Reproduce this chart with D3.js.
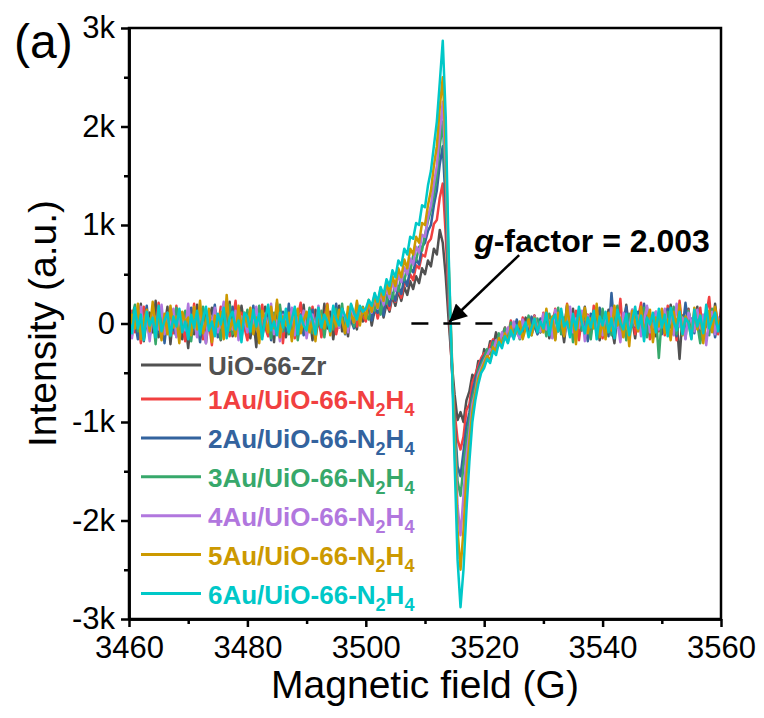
<!DOCTYPE html>
<html>
<head>
<meta charset="utf-8">
<script src="https://cdn.jsdelivr.net/npm/d3@7"></script>
<style>
  body { margin: 0; background: #fff; }
  svg text { font-family: "Liberation Sans", Arial, sans-serif; }
</style>
</head>
<body>
<div id="chart"></div>
<script>
// EPR spectra, one sample every 0.5 G from 3460 G to 3560 G
const fieldStart = 3460, fieldStep = 0.5;

const seriesNames = [
  "UiO-66-Zr",
  "1Au/UiO-66-N_2H_4",
  "2Au/UiO-66-N_2H_4",
  "3Au/UiO-66-N_2H_4",
  "4Au/UiO-66-N_2H_4",
  "5Au/UiO-66-N_2H_4",
  "6Au/UiO-66-N_2H_4"
];
const seriesColors = ["#515151", "#F14040", "#33639E", "#37A86B", "#B177DE", "#CC9900", "#00C8C8"];

const uio66Zr = [
  80, -120, 150, -60, 200, -180, 40, 110, -90, 230, -140, 60, -30, 170, -210, 90, -50, 130, -160, 20,
  -250, 70, -110, 190, -40, 120, -200, 50, 160, -90, 10, -170, 140, -60, 220, -130, 30, -80, 180, -20,
  100, -150, 60, -240, 130, -30, 170, -110, 50, -190, 210, -70, 90, -140, 40, 150, -100, 20, -60, 190,
  -120, 80, -170, 140, 10, -90, 200, -50, 120, -160, 60, 180, -80, 30, -130, 150, 40, -60, 170, 20,
  60, 180, -20, 140, 90, 230, 60, 200, 120, 280, 180, 330, 230, 370, 290, 430, 350, 480, 410, 560,
  500, 640, 580, 760, 700, 950, 820, 480, 20, -380, -720, -980, -900, -1000, -780, -690, -520, -560, -380, -420,
  -260, -330, -180, -240, -90, -200, -130, -40, -170, -60, -110, 20, -140, -30, 60, -90, -20, 80, -100, 10,
  -60, 90, -150, 40, 120, -80, 30, -190, 70, -40, 150, -110, 10, -60, 170, -130, 50, -20, 110, -170,
  60, -90, 140, -30, -200, 80, 20, -120, 190, -60, 40, -150, 100, -10, -80, 160, -40, 70, -130, 30,
  -70, 120, -20, 190, -110, 40, -360, 80, -50, 150, -90, 20, 170, -140, 60, -30, 110, -80, 200, -40,
  90
];
const au1 = [
  -40, 130, -90, 60, -200, 170, 20, -130, 90, -60, 210, -20, -150, 110, 40, -100, 180, -70, 30, -180,
  120, -30, 200, -110, 50, -160, 90, 10, -220, 140, -50, 170, -90, 60, -130, 20, 230, -80, 110, -40,
  -170, 70, 20, 150, -90, 190, -40, -130, 100, 40, -60, 160, -200, 80, -20, 120, -150, 60, 210, -100,
  30, -80, 170, -20, 110, -140, 60, 200, -50, 90, -110, 40, 150, 10, -70, 190, 60, -30, 140, 80,
  20, 160, 80, 210, 50, 170, 120, 260, 140, 300, 220, 360, 260, 420, 380, 500, 440, 590, 560, 700,
  680, 820, 860, 1010, 1050, 1280, 1420, 900, 200, -420, -900, -1180, -1280, -1150, -880, -820, -600, -520, -430, -350,
  -300, -370, -220, -160, -260, -120, -190, -50, -140, 30, -90, -20, -130, 60, -50, 20, -110, 80, -30, -90,
  110, -60, 40, -140, 150, -20, 70, -110, 200, -80, 10, 130, -170, 50, -40, 90, -120, 180, -10, 60,
  -150, 80, 30, -90, 160, -40, 250, -130, 20, -70, 140, -110, 60, 210, -50, 90, -160, 30, 120, -80,
  40, -120, 180, -30, 70, -170, 230, -60, 10, 140, -100, 50, -20, 160, -150, 80, 270, -50, 30, -110,
  150
];
const au2 = [
  150, -70, 20, -160, 110, -30, 180, -120, 60, 10, -90, 140, -200, 70, 120, -40, -130, 90, 30, -60,
  -100, 160, -50, 80, -190, 40, 130, -70, 20, 190, -140, 60, -30, 110, -80, 170, -60, 10, -150, 100,
  50, -110, 180, -40, 60, -130, 20, 150, -170, 90, -50, 30, 120, -80, 200, -140, 40, -20, 90, -120,
  70, -60, 140, -150, 30, 110, -20, 160, -90, 40, 200, -40, 80, -110, 120, 30, -50, 180, 20, 110,
  70, 190, 30, 150, 110, 240, 80, 290, 180, 310, 230, 380, 300, 470, 380, 560, 520, 650, 600, 780,
  820, 940, 1000, 1200, 1350, 1620, 1800, 1200, 300, -380, -1000, -1450, -1550, -1300, -1050, -900, -700, -560, -470, -380,
  -330, -270, -300, -180, -230, -110, -170, -60, -130, -20, -100, 40, -60, -140, 20, -80, 70, -30, -110, 50,
  -40, 120, -90, 30, -160, 90, 10, -60, 180, -120, 50, -10, 140, -70, 20, -180, 100, 40, -90, 160,
  -20, 70, -130, 310, -50, 110, -90, 20, 170, -140, 60, -30, 120, -80, 200, -40, 10, -150, 90, 40,
  -110, 60, 150, -40, 20, -130, 90, -60, 210, -20, 50, -100, 130, -170, 40, 110, -50, 70, -140, 20,
  80
];
const au3 = [
  -110, 60, 190, -80, 30, -150, 120, -40, 80, -210, 150, 20, -70, 100, -130, 50, 160, -100, 10, 130,
  -60, -180, 90, 40, -120, 170, -30, 80, -90, 140, 20, -160, 60, -40, 190, -110, 30, 120, -70, -10,
  140, -90, 30, -50, 180, -120, 70, 20, -150, 110, -30, 190, -80, 40, -110, 60, 130, -170, 20, 80,
  -40, 160, -100, 50, -20, 130, -140, 90, 30, -60, 150, -10, 200, -70, 60, 110, -30, 140, 50, 170,
  100, 40, 190, 130, 260, 90, 300, 200, 350, 250, 420, 330, 480, 440, 560, 520, 690, 640, 780, 740,
  900, 1040, 1150, 1300, 1500, 1800, 2050, 1400, 400, -350, -1050, -1600, -1750, -1450, -1200, -980, -760, -640, -480, -420,
  -350, -260, -310, -190, -240, -100, -180, -50, -150, 10, -110, -40, -160, 30, -70, 80, -120, -10, 50, -90,
  40, -130, 100, -50, 20, 160, -110, 60, -30, 120, -190, 10, 80, -70, 140, -20, -160, 90, 30, -100,
  150, -40, 60, -120, 20, 180, -90, 40, -170, 100, -30, 130, -60, 10, 160, -140, 50, -20, 90, -350,
  60, -80, 120, -30, 170, -110, 20, 70, -150, 130, -40, 90, -10, -200, 80, 30, -120, 150, -60, 40,
  -100
];
const au4 = [
  60, -150, 110, -20, 170, -90, 40, -180, 130, 20, -60, 190, -110, 80, -40, 150, -140, 30, 100, -70,
  200, -80, 30, -140, 90, 10, -200, 120, -30, 160, -90, 50, 220, -120, 40, -60, 130, -170, 70, 20,
  -90, 120, -30, 170, -140, 50, 100, -60, 200, -110, 30, -180, 90, 20, -70, 160, -120, 60, -20, 130,
  -150, 40, 90, -70, 180, -30, 60, 130, -110, 170, 20, -40, 110, 70, -90, 160, 10, 210, 60, 140,
  90, 220, 110, 260, 150, 310, 190, 360, 260, 420, 330, 490, 420, 570, 500, 660, 600, 780, 720, 900,
  880, 1080, 1200, 1420, 1600, 1950, 2250, 1600, 500, -300, -1150, -1850, -2150, -1750, -1350, -1100, -820, -700, -520, -450,
  -380, -320, -260, -290, -170, -220, -90, -160, -40, -130, 20, -90, -150, 40, -60, 10, -110, 70, -40, -80,
  100, -60, 30, -150, 140, -30, 60, -120, 20, 170, -90, 50, -40, 130, -180, 80, -10, 110, -70, 40,
  -120, 90, -40, 160, -80, 20, -190, 110, 50, -60, 140, -20, 80, -130, 30, 180, -90, -40, 120, -60,
  30, 150, -70, 80, -120, 200, -30, 60, -160, 110, 20, -80, 140, -50, 90, -220, 40, 120, -110, 60,
  -40
];
const au5 = [
  -130, 90, -50, 200, -160, 30, 140, -80, 220, -20, 60, -170, 100, -110, 180, -40, 70, -200, 120, 10,
  60, -120, 170, -60, 230, -100, 20, 150, -190, 80, -30, 120, -160, 290, -70, 40, -130, 180, -50, 110,
  -30, 160, -110, 60, -200, 130, 40, -90, 170, -50, 240, -140, 70, -20, 110, -180, 50, 150, -100, 30,
  120, -90, 40, -180, 150, 60, -50, 190, -120, 80, -30, 140, 30, -100, 170, 90, 10, 230, -20, 160,
  50, 240, 120, 300, 160, 360, 230, 420, 300, 480, 380, 560, 470, 650, 560, 760, 700, 880, 820, 1020,
  1000, 1200, 1350, 1600, 1800, 2200, 2500, 1800, 600, -250, -1200, -2100, -2500, -2100, -1550, -1200, -900, -720, -560, -480,
  -400, -330, -380, -240, -290, -150, -230, -100, -190, -30, -140, -80, 20, -160, -50, 40, -120, 60, -70, 10,
  -90, 150, -40, 70, -170, 110, 20, -130, 190, -60, 40, -210, 120, -10, 160, -100, 50, -50, 200, -140,
  30, -160, 110, -70, 180, -20, 60, -140, 90, -230, 130, 10, -80, 170, -120, 40, 140, -190, 60, -30,
  150, -100, 40, -170, 120, -40, 190, -120, 70, 10, -150, 160, -60, 90, -200, 50, 130, -90, 170, -20,
  60
];
const au6 = [
  40, -100, 160, -50, 90, -170, 120, -20, 60, -140, 180, -80, 30, 110, -120, 70, -30, 150, -90, 20,
  -160, 90, -40, 130, -110, 50, 170, -70, 20, -130, 100, -10, 160, -150, 60, 120, -60, 30, -190, 110,
  70, -80, 140, -30, 100, -160, 50, 190, -70, 20, -120, 110, -40, 150, -90, 40, 170, -110, 80, -20,
  -70, 130, 30, -110, 160, -40, 90, 20, -80, 180, 50, -20, 150, 80, -30, 200, 110, 40, 180, 120,
  150, 240, 180, 310, 220, 370, 290, 450, 380, 540, 470, 640, 590, 760, 700, 880, 860, 1020, 1000, 1200,
  1180, 1400, 1550, 1800, 2050, 2450, 2870, 2100, 700, -300, -1400, -2400, -2880, -2500, -1900, -1400, -1000, -780, -620, -500,
  -450, -360, -400, -280, -320, -190, -250, -130, -200, -70, -160, -20, -110, -60, 10, -140, -40, 50, -90, 20,
  -50, 110, -120, 40, 90, -80, 150, -30, 20, -140, 100, -60, 170, 10, -100, 60, -40, 130, -160, 70,
  -20, 120, -90, 50, -150, 140, 10, -60, 100, -120, 30, 170, -50, 80, -180, 60, -10, 110, -90, 150,
  -40, 90, -130, 160, 20, -70, 120, -110, 50, 10, -160, 140, -30, 80, -100, 190, -50, 40, 110, -80,
  30
];
const seriesValues = [uio66Zr, au1, au2, au3, au4, au5, au6];

const xTicks = [3460, 3480, 3500, 3520, 3540, 3560];
const xMinorTicks = [3470, 3490, 3510, 3530, 3550];
const yTicks = [-3000, -2000, -1000, 0, 1000, 2000, 3000];
const yMinorTicks = [-2500, -1500, -500, 500, 1500, 2500];

// g-factor marker: zero crossing and dashed baseline span
const gCrossing = 3514.1;
const baselineSpan = [3507.7, 3521.8];

const W = 764, H = 718;
const margin = { top: 28, right: 43, bottom: 99, left: 129 };
const width = W - margin.left - margin.right;
const height = H - margin.top - margin.bottom;

const svg = d3.select("#chart").append("svg")
  .attr("width", W).attr("height", H);

const g = svg.append("g")
  .attr("transform", `translate(${margin.left},${margin.top})`);

const x = d3.scaleLinear().domain([3460, 3560]).range([0, width]);
const y = d3.scaleLinear().domain([-3000, 3000]).range([height, 0]);

g.append("clipPath").attr("id", "plot-clip")
  .append("rect").attr("width", width).attr("height", height);

// spectra
const line = d3.line()
  .x((d, i) => x(fieldStart + i * fieldStep))
  .y(d => y(d));

const traces = g.append("g").attr("clip-path", "url(#plot-clip)");
seriesValues.forEach((vals, k) => {
  traces.append("path")
    .datum(vals)
    .attr("fill", "none")
    .attr("stroke", seriesColors[k])
    .attr("stroke-width", 2.5)
    .attr("stroke-linejoin", "round")
    .attr("d", line);
});

// dashed zero line around the signal
g.append("line")
  .attr("x1", x(baselineSpan[0])).attr("x2", x(baselineSpan[1]))
  .attr("y1", y(0)).attr("y2", y(0))
  .attr("stroke", "#000").attr("stroke-width", 2.5)
  .attr("stroke-dasharray", "17,15");

// arrow + label
svg.append("defs").append("marker")
  .attr("id", "arrowhead")
  .attr("viewBox", "0 0 10 10")
  .attr("refX", 10).attr("refY", 5)
  .attr("markerWidth", 8).attr("markerHeight", 7)
  .attr("markerUnits", "strokeWidth")
  .attr("orient", "auto")
  .append("path").attr("d", "M0,0 L10,5 L0,10 z").attr("fill", "#000");

g.append("line")
  .attr("x1", x(3525.9)).attr("y1", y(695))
  .attr("x2", x(gCrossing)).attr("y2", y(15))
  .attr("stroke", "#000").attr("stroke-width", 2.5)
  .attr("marker-end", "url(#arrowhead)");

const gLabel = g.append("text")
  .attr("x", x(3518.3)).attr("y", y(725))
  .attr("font-size", 32).attr("font-weight", "bold");
gLabel.append("tspan").attr("font-style", "italic").text("g");
gLabel.append("tspan").text("-factor = 2.003");

// frame
g.append("rect")
  .attr("width", width).attr("height", height)
  .attr("fill", "none").attr("stroke", "#000").attr("stroke-width", 2.5);

// axes
const fmtY = d => d === 0 ? "0" : (d / 1000) + "k";

const xAxis = g.append("g")
  .attr("transform", `translate(0,${height})`)
  .call(d3.axisBottom(x).tickValues(xTicks).tickSize(8).tickSizeOuter(0).tickPadding(9).tickFormat(d3.format("d")));
const xMinor = g.append("g")
  .attr("transform", `translate(0,${height})`)
  .call(d3.axisBottom(x).tickValues(xMinorTicks).tickSize(5).tickSizeOuter(0));

const yAxis = g.append("g")
  .call(d3.axisLeft(y).tickValues(yTicks).tickSize(8).tickSizeOuter(0).tickPadding(6).tickFormat(fmtY));
const yMinor = g.append("g")
  .call(d3.axisLeft(y).tickValues(yMinorTicks).tickSize(5).tickSizeOuter(0));

[xMinor, yMinor].forEach(a => a.selectAll(".tick text").remove());

[xAxis, xMinor, yAxis, yMinor].forEach(a => {
  a.attr("font-size", 31).attr("font-family", "'Liberation Sans', Arial, sans-serif");
  a.select(".domain").attr("stroke-width", 2.5);
  a.selectAll(".tick line").attr("stroke-width", 2.5);
  a.selectAll(".tick text").attr("font-size", 31).attr("fill", "#000");
});

// axis titles
svg.append("text")
  .attr("x", margin.left + width / 2).attr("y", 698)
  .attr("text-anchor", "middle").attr("font-size", 39)
  .text("Magnetic field (G)");

svg.append("text")
  .attr("transform", `translate(56,${margin.top + height / 2}) rotate(-90)`)
  .attr("text-anchor", "middle").attr("font-size", 39)
  .text("Intensity (a.u.)");

svg.append("text")
  .attr("x", 14).attr("y", 58)
  .attr("font-size", 48)
  .text("(a)");

// legend
const legend = g.append("g");
seriesNames.forEach((name, k) => {
  const ly = k === 0 ? 337 : 371 + (k - 1) * 38.9;
  legend.append("line")
    .attr("x1", 12).attr("x2", 72)
    .attr("y1", ly).attr("y2", ly)
    .attr("stroke", seriesColors[k]).attr("stroke-width", 3);
  const t = legend.append("text")
    .attr("x", 79).attr("y", ly + 10)
    .attr("font-size", 26).attr("font-weight", "bold")
    .attr("fill", seriesColors[k]);
  let shift = 0;
  name.split(/(_\d)/).filter(s => s.length).forEach(part => {
    if (part[0] === "_") {
      t.append("tspan").attr("font-size", 18).attr("dy", 7 - shift).text(part.slice(1));
      shift = 7;
    } else {
      t.append("tspan").attr("dy", -shift).text(part);
      shift = 0;
    }
  });
});
</script>
</body>
</html>
